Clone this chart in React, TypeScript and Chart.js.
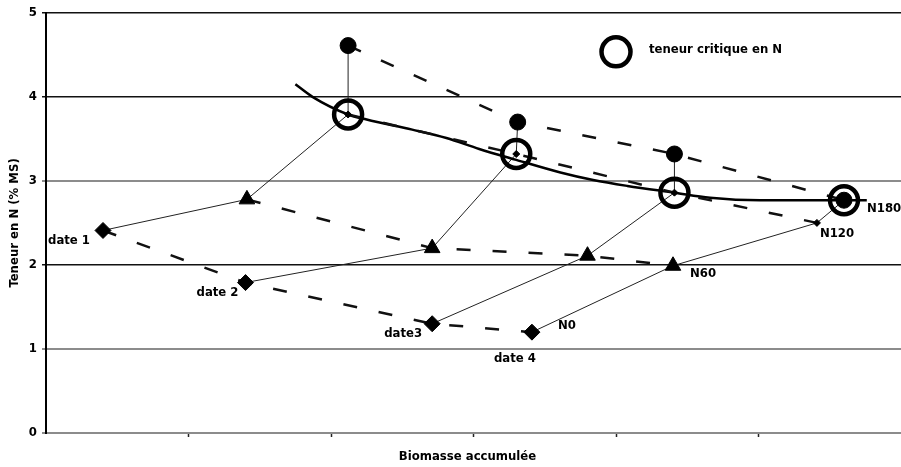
import React, { useEffect, useRef } from "react";
import { Chart, registerables } from "chart.js";

Chart.register(...registerables);

// ---- data ----
const dateLabels = ["date 1", "date 2", "date3", "date 4"];
const levelLabels = ["N0", "N60", "N120", "N180"];

const xN0 = [0.4, 1.4, 2.71, 3.41];
const yN0 = [2.41, 1.79, 1.3, 1.2];
const xN60 = [1.41, 2.71, 3.8, 4.4];
const yN60 = [2.78, 2.2, 2.11, 1.99];
const xN120 = [2.12, 3.3, 4.41, 5.41];
const yN120 = [3.79, 3.32, 2.86, 2.5];
const xN180 = [2.12, 3.31, 4.41, 5.6];
const yN180 = [4.61, 3.7, 3.32, 2.77];

const critX = [2.12, 3.3, 4.41, 5.6];
const critY = [3.79, 3.32, 2.86, 2.77];

const curveX = [1.75, 1.87, 2.12, 2.25, 2.57, 2.81, 3.04, 3.3, 3.61, 3.84, 4.08, 4.41, 4.66, 5.01, 5.6, 5.76];
const curveY = [4.15, 4.0, 3.79, 3.73, 3.61, 3.51, 3.38, 3.25, 3.1, 3.01, 2.94, 2.86, 2.8, 2.77, 2.77, 2.77];

const yTickValues = [0, 1, 2, 3, 4, 5];
const darkGridValues = [2, 4, 5];

const legendLabel = "teneur critique en N";
const yTitle = "Teneur en N (% MS)";
const xTitle = "Biomasse accumulée";

const FONT = "'DejaVu Sans Condensed', 'DejaVu Sans', sans-serif";

const pts = (xs: number[], ys: number[]) => xs.map((v, i) => ({ x: v, y: ys[i] }));

const levelsX = [xN0, xN60, xN120, xN180];
const levelsY = [yN0, yN60, yN120, yN180];

const annotate = {
  id: "annotate",
  afterDatasetsDraw(chart: any) {
    const { ctx, chartArea, scales } = chart;
    const sx = scales.x;
    const sy = scales.y;
    ctx.save();
    ctx.font = `bold 13px ${FONT}`;
    ctx.fillStyle = "#000";
    ctx.textBaseline = "middle";
    const dateOff: [number, number, CanvasTextAlign][] = [
      [-13, 10, "right"],
      [-7, 10, "right"],
      [-10, 10, "right"],
      [-17, 26, "center"],
    ];
    dateLabels.forEach((t, i) => {
      const px = sx.getPixelForValue(xN0[i]);
      const py = sy.getPixelForValue(yN0[i]);
      ctx.textAlign = dateOff[i][2];
      ctx.fillText(t, px + dateOff[i][0], py + dateOff[i][1]);
    });
    const levelOff = [
      [26, -7],
      [17, 8],
      [3, 11],
      [23, 8],
    ];
    levelLabels.forEach((t, i) => {
      const px = sx.getPixelForValue(levelsX[i][3]);
      const py = sy.getPixelForValue(levelsY[i][3]);
      ctx.textAlign = "left";
      ctx.fillText(t, px + levelOff[i][0], py + levelOff[i][1]);
    });
    // legend
    const lx = chartArea.left + 570;
    const ly = chartArea.top + 39;
    ctx.beginPath();
    ctx.lineWidth = 4.5;
    ctx.strokeStyle = "#000";
    ctx.arc(lx, ly, 14.5, 0, Math.PI * 2);
    ctx.stroke();
    ctx.textAlign = "left";
    ctx.fillText(legendLabel, lx + 33, ly - 2);
    // x-axis title
    ctx.textAlign = "center";
    ctx.fillText(xTitle, (chartArea.left + chartArea.right) / 2 - 6, chartArea.bottom + 24);
    ctx.restore();
  },
};

export default function App() {
  const ref = useRef<HTMLCanvasElement | null>(null);

  useEffect(() => {
    if (!ref.current) return;
    const dashed = { borderDash: [14, 22], borderWidth: 2.5, borderColor: "#111", showLine: true };
    const datasets: any[] = [];

    const styles = [
      { pointStyle: "rectRot", pointRadius: 8 },
      { pointStyle: "triangle", pointRadius: 9 },
      { pointStyle: "rectRot", pointRadius: 3.5 },
      { pointStyle: "circle", pointRadius: 8 },
    ];
    levelLabels.forEach((lab, i) => {
      datasets.push({
        label: lab,
        data: pts(levelsX[i], levelsY[i]),
        ...dashed,
        pointBackgroundColor: "#000",
        pointBorderColor: "#000",
        pointBorderWidth: 1,
        ...styles[i],
        order: 1,
      });
    });

    dateLabels.forEach((lab, d) => {
      datasets.push({
        label: lab,
        data: levelsX.map((xs, k) => ({ x: xs[d], y: levelsY[k][d] })),
        showLine: true,
        borderColor: "#222",
        borderWidth: 1,
        pointRadius: 0,
        order: 3,
      });
    });

    datasets.push({
      label: "courbe",
      data: pts(curveX, curveY),
      showLine: true,
      borderColor: "#000",
      borderWidth: 2.5,
      cubicInterpolationMode: "monotone",
      pointRadius: 0,
      order: 2,
    });

    datasets.push({
      label: legendLabel,
      data: pts(critX, critY),
      showLine: false,
      pointStyle: "circle",
      pointRadius: 14,
      pointBorderWidth: 4.5,
      pointBorderColor: "#000",
      pointBackgroundColor: "rgba(0,0,0,0)",
      order: 0,
    });

    const chart = new Chart(ref.current, {
      type: "scatter",
      data: { datasets },
      plugins: [annotate],
      options: {
        animation: false,
        responsive: true,
        maintainAspectRatio: false,
        layout: { autoPadding: false, padding: { top: 11, right: 0, left: 0, bottom: 0 } },
        plugins: { legend: { display: false }, tooltip: { enabled: false } },
        scales: {
          x: {
            type: "linear",
            min: 0,
            max: 6,
            ticks: { stepSize: 1, display: false },
            grid: {
              drawOnChartArea: false,
              drawTicks: true,
              tickLength: 4,
              tickWidth: 1.5,
              tickColor: (c: any) => (c.tick && (c.tick.value === 0 || c.tick.value === 6) ? "rgba(0,0,0,0)" : "#222"),
            },
            border: { display: false },
            title: { display: false },
            afterFit: (s: any) => {
              s.height = 34;
            },
          },
          y: {
            type: "linear",
            min: 0,
            max: 5,
            afterBuildTicks: (s: any) => {
              s.ticks = yTickValues.map((v) => ({ value: v }));
            },
            ticks: {
              font: { family: FONT, size: 13, weight: "bold" },
              color: "#000",
              padding: 5,
            },
            grid: {
              color: (c: any) => (c.tick && darkGridValues.includes(c.tick.value) ? "#111" : "#8c8c8c"),
              lineWidth: (c: any) => (c.tick && darkGridValues.includes(c.tick.value) ? 1.5 : 2),
              drawTicks: true,
              tickLength: 4,
            },
            border: { display: true, color: "#000", width: 2 },
            title: {
              display: true,
              text: yTitle,
              font: { family: FONT, size: 13, weight: "bold" },
              color: "#000",
              padding: { top: 7, bottom: 0 },
            },
            afterFit: (s: any) => {
              s.width = 46;
            },
          },
        },
      } as any,
    });
    return () => chart.destroy();
  }, []);

  return (
    <div style={{ position: "fixed", left: 0, top: 0, width: 901, height: 467, background: "#fff" }}>
      <canvas ref={ref} />
    </div>
  );
}
